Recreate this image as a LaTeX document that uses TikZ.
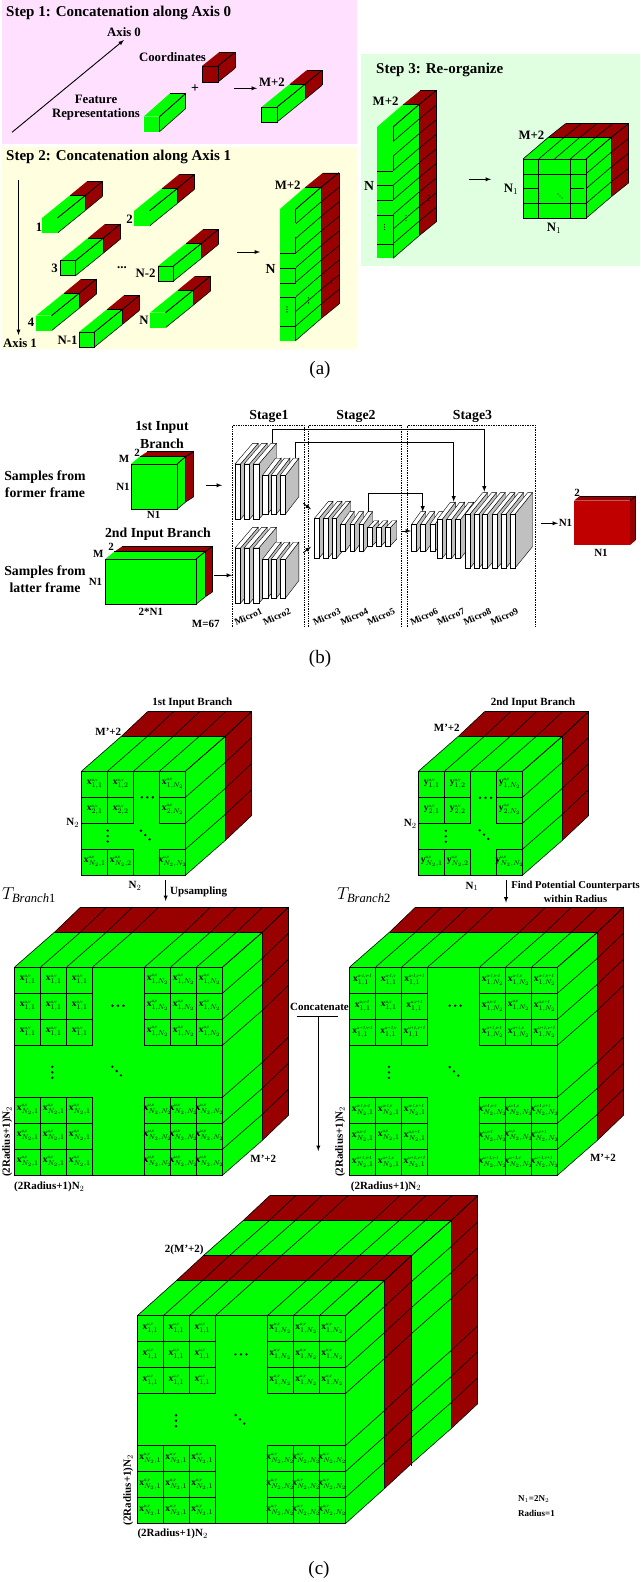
\documentclass[tikz,border=0pt]{standalone}
\usepackage{fontspec}
\setmainfont{Liberation Serif}

\definecolor{featgreen}{HTML}{00FF00}
\definecolor{coordred}{HTML}{990000}
\definecolor{outred}{HTML}{C00000}
\definecolor{sidegray}{HTML}{C0C0C0}
\definecolor{pinkpanel}{HTML}{FFE0FF}
\definecolor{yellowpanel}{HTML}{FFFFE0}
\definecolor{greenpanel}{HTML}{E0FFE0}

\tikzset{
    gridline/.style={draw=black, line width=0.6pt},
    heavyline/.style={draw=black, line width=1pt},
    flow/.style={-latex, draw=black, line width=0.9pt},
    steptitle/.style={font=\bfseries\fontsize{15}{15}\selectfont, inner sep=0, anchor=west},
    steplabel/.style={font=\bfseries\fontsize{12.8}{13}\selectfont, inner sep=0},
    boldlabel/.style={font=\bfseries\fontsize{13.8}{14}\selectfont, inner sep=0},
    smalllabel/.style={font=\bfseries\fontsize{11}{11}\selectfont, inner sep=0},
    microlabel/.style={font=\bfseries\fontsize{9.5}{10}\selectfont, inner sep=0, rotate=25},
    caption/.style={font=\fontsize{19}{19}\selectfont, inner sep=0},
    cellbox/.style={draw=black, line width=1pt, minimum size=26pt, inner sep=0,
        font=\fontsize{9.5}{10}\selectfont},
}

\def\cellw{26}
\def\bigticks{0,26,52,78,130,156,182,208}
\def\smallticks{0,26,52,78,104}
\def\flatrows{0/1/u,1/1/u,2/1/u,5/N_2/u,6/N_2/u,7/N_2/u}
\def\flatcols{0/1/v,1/1/v,2/1/v,5/N_2/v,6/N_2/v,7/N_2/v}
\def\radiusrows{0/1/u-1,1/1/u,2/1/u+1,5/N_2/u-1,6/N_2/u,7/N_2/u+1}
\def\radiuscols{0/1/v-1,1/1/v,2/1/v+1,5/N_2/v-1,6/N_2/v,7/N_2/v+1}

% Tiny superscript of a cell
\newcommand{\cellsup}[2]{\mbox{\fontsize{4.8}{5}\selectfont\itshape #1,#2}}

% Front face of a cube: left, top, width, height
\newcommand{\setcube}[4]{\def\cubeX{#1}\def\cubeY{#2}\def\cubeW{#3}\def\cubeH{#4}}

% One layer behind the front face: depth from, depth to, colour, ticks on top, ticks on side
\newcommand{\gridlayer}[7]{%
    \edef\gridcols{#6}\edef\gridrows{#7}%
    \fill[#5] ({\cubeX+#1},{\cubeY-#2}) -- ({\cubeX+\cubeW+#1},{\cubeY-#2})
        -- ({\cubeX+\cubeW+#3},{\cubeY-#4}) -- ({\cubeX+#3},{\cubeY-#4}) -- cycle;
    \fill[#5] ({\cubeX+\cubeW+#1},{\cubeY-#2}) -- ({\cubeX+\cubeW+#3},{\cubeY-#4})
        -- ({\cubeX+\cubeW+#3},{\cubeY+\cubeH-#4}) -- ({\cubeX+\cubeW+#1},{\cubeY+\cubeH-#2}) -- cycle;
    \foreach \i in \gridcols {\draw[gridline] ({\cubeX+\i+#1},{\cubeY-#2}) -- ({\cubeX+\i+#3},{\cubeY-#4});}
    \foreach \j in \gridrows {\draw[gridline] ({\cubeX+\cubeW+#1},{\cubeY+\j-#2}) -- ({\cubeX+\cubeW+#3},{\cubeY+\j-#4});}
    \draw[gridline] ({\cubeX+#3},{\cubeY-#4}) -- ({\cubeX+\cubeW+#3},{\cubeY-#4})
        -- ({\cubeX+\cubeW+#3},{\cubeY+\cubeH-#4});
}

% Front face
\newcommand{\frontface}[2]{\path[#1,#2] (\cubeX,\cubeY) rectangle ({\cubeX+\cubeW},{\cubeY+\cubeH});}

% One feature bar with its coordinates: front style, left, bottom
\newcommand{\tensorbar}[3][draw=none]{%
    \setcube{#2}{#3-15}{15.5}{15}%
    \gridlayer{28}{22.7}{45}{36.7}{coordred}{15.5}{0,15}%
    \gridlayer{0}{0}{28}{22.7}{featgreen}{15.5}{0,15}%
    \frontface{fill=featgreen,gridline}{#1}%
}

% The tall stack of bars: left, bottom
\newcommand{\barstack}[2]{%
    \setcube{#1}{#2-131.3}{16}{131.3}%
    \gridlayer{25.8}{22.3}{43.4}{36.6}{coordred}{16}{0,14.6,29.2,43.8,58.4,73,87.6,102.2,116.8,131.3}%
    \gridlayer{0}{0}{25.8}{22.3}{featgreen}{16}{0,14.6,29.2,43.8,58.4,73,87.6,102.2,116.8,131.3}%
    \frontface{fill=featgreen}{draw=none}%
    \foreach \j in {44,58.6,73.4,88,116.8} {\draw[gridline] (\cubeX,{\cubeY+\j}) -- ({\cubeX+16},{\cubeY+\j});}
    \draw[gridline] ({\cubeX+16},\cubeY) -- ++(0,14) ({\cubeX+16},{\cubeY+28}) -- ++(0,16)
        ({\cubeX+16},{\cubeY+58.6}) -- ++(0,14.8) ({\cubeX+16},{\cubeY+88}) -- ({\cubeX+16},{\cubeY+\cubeH});
    \vdotsat{\cubeX+7.5}{\cubeY+100}{2.5}{0.7}
    \vdotsat{\cubeX+29}{\cubeY+91}{2.5}{0.7}
    \vdotsat{\cubeX+52}{\cubeY+71}{2.5}{0.7}
}

% One slab of a convolution block: left, top, bottom, width, depth
\newcommand{\slab}[6]{%
    \filldraw[fill=sidegray, draw=black, line width=0.4pt] ({#1+#4},#2) -- ({#1+#4+#5},{#2-#6})
        -- ({#1+#4+#5},{#3-#6}) -- ({#1+#4},#3) -- cycle;
    \filldraw[fill=white, draw=black, line width=0.4pt] (#1,#2) -- ({#1+#5},{#2-#6})
        -- ({#1+#4+#5},{#2-#6}) -- ({#1+#4},#2) -- cycle;
    \filldraw[fill=white, draw=black, line width=0.6pt] (#1,#2) rectangle ({#1+#4},#3);
}

% Dots for the omitted cells
\newcommand{\hdotsat}[4]{\foreach \k in {-1,0,1} {\fill ({#1+\k*#3},{#2}) circle (#4);}}
\newcommand{\vdotsat}[4]{\foreach \k in {-1,0,1} {\fill ({#1},{#2+\k*#3}) circle (#4);}}
\newcommand{\ddotsat}[4]{\foreach \k in {-1,0,1} {\fill ({#1+\k*#3},{#2+\k*#3}) circle (#4);}}

% Labelled cells
\newcommand{\datacell}[4]{\node (#1-#2-#3) at ({\cubeX+(#2+.5)*\cellw},{\cubeY+(#3+.5)*\cellw}) [cellbox] {\makebox[24pt]{$#4$}};}
\newcommand{\smallcells}[2]{%
    \foreach \rowno/\rowsub in {0/1,1/2,3/N_2} {
        \foreach \colno/\colsub in {0/1,1/2,3/N_2} {
            \datacell{#1}{\colno}{\rowno}{\mathbf{#2}^{\cellsup{u}{v}}_{\rowsub,\colsub}}
        }
    }%
}
\newcommand{\bigcells}[3]{%
    \foreach \rowno/\rowsub/\rowsup in #2 {
        \foreach \colno/\colsub/\colsup in #3 {
            \datacell{#1}{\colno}{\rowno}{\mathbf{x}^{\cellsup{\rowsup}{\colsup}}_{\rowsub,\colsub}}
        }
    }%
}

% Arrow between two named ends
\newcommand{\flowarrow}[3]{\coordinate (#1s) at (#2); \coordinate (#1e) at (#3); \draw[flow] (#1s) -- (#1e);}
\newcommand{\skiparrow}[6]{\coordinate (#1s) at (#2,#3); \coordinate (#1e) at (#5,#6);
    \draw[flow] (#1s) -- ++(0,{#4-#3}) -| (#1e);}

\begin{document}
\begin{tikzpicture}[x=1pt, y=-1pt]
    \useasboundingbox (0,0) rectangle (640,1582);

    % Draw the panels of part (a)
    \fill[pinkpanel] (2,0) rectangle (357,144);
    \fill[yellowpanel] (2,147) rectangle (357,349);
    \fill[greenpanel] (361,54.3) rectangle (640,266);

    % Step 1
    \node (stepone) at (6,12.5) [steptitle] {Step 1: Concatenation along Axis 0};
    \flowarrow{axiszero}{12,132.3}{124,40}
    \node (axiszerolabel) at (124,32) [steplabel] {Axis 0};
    \setcube{202}{66}{16}{16}
    \gridlayer{0}{0}{17}{13.7}{coordred}{16}{0,16}
    \frontface{fill=coordred,gridline}{draw=black}
    \setcube{143.5}{116.7}{16}{15}
    \gridlayer{0}{0}{26}{23}{featgreen}{16}{0,15}
    \frontface{fill=featgreen}{draw=none}
    \draw[gridline] (159.5,116.7) -- (159.5,131.7);
    \tensorbar[draw=black]{261.5}{122}
    \node (coordlabel) at (172.5,56.7) [steplabel] {Coordinates};
    \node (featurelabel) at (96,99.3) [steplabel] {Feature};
    \node (reprlabel) at (96,114.3) [steplabel] {Representations};
    \node (pluslabel) at (195,88.3) [boldlabel] {+};
    \flowarrow{stepone}{234,88.3}{257,88.3}
    \node (barwidth) at (272,82.3) [steplabel] {M+2};

    % Step 2
    \node (steptwo) at (6,157) [steptitle] {Step 2: Concatenation along Axis 1};
    \flowarrow{axisone}{18.5,180}{18.5,335}
    \node (axisonelabel) at (20,343) [steplabel] {Axis 1};
    \tensorbar{42}{233}
    \tensorbar{134}{226}
    \tensorbar[draw=black]{60}{275.7}
    \tensorbar[draw=black]{158}{281}
    \tensorbar{36}{330.7}
    \tensorbar[draw=black]{79}{347}
    \tensorbar{150}{327.7}
    \foreach \bname/\bx/\by/\btext in {a/39/227/1, b/129.5/219/2, c/54.5/268/3, e/145.5/273/N-2, f/31/322.7/4, g/67.5/340.7/N-1, h/144/320/N} {
        \node (bar\bname) at (\bx,\by) [steplabel] {\btext};
    }
    \node (bargap) at (122,268) [steplabel] {...};
    \flowarrow{steptwo}{237,252}{260,252}
    \barstack{279.5}{340.7}
    \node (stackwidth) at (287.7,185) [steplabel] {M+2};
    \node (stackheight) at (270.5,269) [boldlabel] {N};

    % Step 3
    \node (stepthree) at (376,69.5) [steptitle] {Step 3: Re-organize};
    \barstack{377}{258.3}
    \node (tallwidth) at (385.6,101.3) [steplabel] {M+2};
    \node (tallheight) at (369,185.7) [boldlabel] {N};
    \flowarrow{stepthree}{468.5,179.3}{491,179.3}
    \setcube{523}{159}{63}{59.3}
    \gridlayer{25.4}{21.7}{42.6}{35.4}{coordred}{0,15.75,31.5,47.25,63}{0,14.8,29.6,44.4,59.3}
    \gridlayer{0}{0}{25.4}{21.7}{featgreen}{0,15.75,31.5,47.25,63}{0,14.8,29.6,44.4,59.3}
    \frontface{fill=featgreen,gridline}{draw=black}
    \draw[gridline] (538.75,159) -- (538.75,218.3) (570,159) -- (570,218.3)
        (523,173.8) -- (586,173.8) (523,188.6) -- (538.75,188.6) (570,188.6) -- (584,188.6)
        (523,203.4) -- (586,203.4);
    \hdotsat{561}{174.5}{2.5}{0.7}
    \vdotsat{538.75}{196}{2.5}{0.7}
    \ddotsat{560}{196}{2}{0.7}
    \node (cubewidth) at (531.5,135) [steplabel] {M+2};
    \node (cubeheight) at (511,189.3) [steplabel] {N$_{1}$};
    \node (cubedepth) at (554,228.3) [steplabel] {N$_{1}$};
    \node (captiona) at (320,370) [caption] {(a)};

    % Inputs of part (b)
    \node (firsttitlea) at (162,427.7) [boldlabel] {1st Input};
    \node (firsttitleb) at (162,443.3) [boldlabel] {Branch};
    \node (formera) at (45,477.3) [boldlabel] {Samples from};
    \node (formerb) at (45,492.3) [boldlabel] {former frame};
    \setcube{131}{464}{46}{45.3}
    \gridlayer{8.6}{7.3}{16.4}{12.3}{coordred}{46}{0,45.3}
    \gridlayer{0}{0}{8.6}{7.3}{featgreen}{46}{0,45.3}
    \frontface{fill=featgreen,gridline}{draw=black}
    \node (firsttwo) at (137,453) [smalllabel] {2};
    \node (firstm) at (124,459.3) [smalllabel] {M};
    \node (firstnleft) at (123,486.7) [smalllabel] {N1};
    \node (firstnlow) at (153.7,515.3) [smalllabel] {N1};
    \flowarrow{firstin}{205.7,485.3}{222,485.3}

    \node (secondtitle) at (158,534) [boldlabel] {2nd Input Branch};
    \node (lattera) at (45,572) [boldlabel] {Samples from};
    \node (latterb) at (45,587.3) [boldlabel] {latter frame};
    \setcube{105.3}{559}{90.7}{45.3}
    \gridlayer{9}{7.3}{16.4}{12.3}{coordred}{90.7}{0,45.3}
    \gridlayer{0}{0}{9}{7.3}{featgreen}{90.7}{0,45.3}
    \frontface{fill=featgreen,gridline}{draw=black}
    \node (secondtwo) at (111,547.3) [smalllabel] {2};
    \node (secondm) at (98.4,553.7) [smalllabel] {M};
    \node (secondnleft) at (95.5,581.7) [smalllabel] {N1};
    \node (secondnlow) at (150.8,612.3) [smalllabel] {2*N1};
    \node (secondmval) at (205.7,624) [smalllabel] {M=67};
    \flowarrow{secondin}{214.3,575.3}{232,575.3}

    % Stages of part (b)
    \foreach \sname/\sx/\stext in {a/269/Stage1, b/356/Stage2, c/472.5/Stage3} {
        \node (stage\sname) at (\sx,416.5) [boldlabel] {\stext};
    }
    \draw[densely dotted, line width=0.7pt] (232.3,627) -- (232.3,425) -- (304,425) -- (304,627);
    \draw[densely dotted, line width=0.7pt] (308.3,627) -- (308.3,425) -- (401.7,425) -- (401.7,627);
    \draw[densely dotted, line width=0.7pt] (407.3,627) -- (407.3,425) -- (535,425) -- (535,627);

    % Slabs of each Micro block
    \foreach \gy in {0,84} {
        \foreach \sx in {235,244,253.3} {\slab{\sx}{464+\gy}{519.3+\gy}{5.5}{17.7}{20.7}}
        \foreach \sx in {262.3,271,280} {\slab{\sx}{475.5+\gy}{514+\gy}{5.5}{13.3}{17.3}}
    }
    \foreach \sx in {314.5,323.5,332} {\slab{\sx}{518.3}{558.3}{4.5}{14}{17}}
    \foreach \sx in {340.7,350,359} {\slab{\sx}{524.3}{551.7}{4.5}{9}{12.7}}
    \foreach \sx in {367.7,376.7,385.7} {\slab{\sx}{527.7}{546}{4.5}{6.5}{7}}
    \foreach \sx in {411.7,420.7,430} {\slab{\sx}{524.3}{551.7}{5}{9}{12.7}}
    \foreach \sx in {437.3,446.7,455.7} {\slab{\sx}{519.3}{558.3}{5}{13}{17}}
    \foreach \sx in {465,474,482.7,492.3,501,510} {\slab{\sx}{514.3}{568.3}{4.8}{17.7}{21.7}}

    \foreach \mname/\mx in {1/248.3, 2/276.7, 3/326.7, 4/354.3, 5/381, 6/424, 7/450.7, 8/477.3, 9/504.3} {
        \node (micro\mname) at (\mx,616.7) [microlabel] {Micro\mname};
    }

    % Arrows between the stages
    \skiparrow{skipone}{272.7}{443.3}{429}{484.3}{491.7}
    \skiparrow{skiptwo}{295.7}{458.3}{442.3}{453.7}{501.7}
    \skiparrow{skipthree}{368.7}{511.7}{493.3}{422.7}{511.7}
    \flowarrow{joinup}{303.3,503.3}{311,509.3}
    \flowarrow{joinlow}{303.3,552.7}{311,546.7}
    \flowarrow{stagetwo}{401,531}{411,531}

    % Output of part (b)
    \flowarrow{outarrow}{541,523.3}{558,523.3}
    \node (outleft) at (565.5,523) [smalllabel] {N1};
    \setcube{574}{500.7}{56}{44.3}
    \gridlayer{0}{0}{5.7}{4.7}{coordred}{56}{0}
    \frontface{fill=outred}{draw=none}
    \node (outtwo) at (577,493.3) [smalllabel] {2};
    \node (outlow) at (601,552.7) [smalllabel] {N1};
    \node (captionb) at (320,659.3) [caption] {(b)};

    % First input cube of part (c)
    \setcube{81.7}{771}{104}{104}
    \gridlayer{40}{35}{66}{59.5}{coordred}{\smallticks}{\smallticks}
    \gridlayer{0}{0}{40}{35}{featgreen}{\smallticks}{\smallticks}
    \frontface{fill=featgreen}{draw=none}
    \smallcells{firstcell}{x}
    \draw[heavyline] (\cubeX,\cubeY) rectangle ({\cubeX+104},{\cubeY+104});
    \draw[heavyline] (121.7,736) -- (225.7,736) -- (225.7,840);
    \hdotsat{147.3}{797.3}{5.5}{1.3}
    \vdotsat{107.7}{836}{5.5}{1.3}
    \ddotsat{145.3}{835}{4.3}{1.3}
    \node (firstname) at (192.3,703.3) [smalllabel] {1st Input Branch};
    \node (firstdepth) at (108.3,732.3) [smalllabel] {M'+2};
    \node (firstside) at (72.7,822.7) [smalllabel] {N$_{2}$};
    \node (firstbase) at (135,886) [smalllabel] {N$_{2}$};
    \node (upsample) at (170,891.7) [smalllabel, anchor=west] {Upsampling};
    \flowarrow{upsamplearrow}{165.7,880}{165.7,901}

    % Second input cube of part (c)
    \setcube{418.7}{771}{104}{104}
    \gridlayer{40}{35}{66}{59.5}{coordred}{\smallticks}{\smallticks}
    \gridlayer{0}{0}{40}{35}{featgreen}{\smallticks}{\smallticks}
    \frontface{fill=featgreen}{draw=none}
    \smallcells{secondcell}{y}
    \draw[heavyline] (\cubeX,\cubeY) rectangle ({\cubeX+104},{\cubeY+104});
    \hdotsat{485.6}{797.8}{5.5}{1.3}
    \vdotsat{445.8}{836.3}{5.5}{1.3}
    \ddotsat{484}{834.6}{4.3}{1.3}
    \node (secondname) at (533,703) [smalllabel] {2nd Input Branch};
    \node (seconddepth) at (446.8,728) [smalllabel] {M'+2};
    \node (secondside) at (410.3,823.8) [smalllabel] {N$_{2}$};
    \node (secondbase) at (472,886.4) [smalllabel] {N$_{1}$};
    \node (findlabela) at (575.5,885.7) [smalllabel, font=\bfseries\fontsize{10.6}{11}\selectfont] {Find Potential Counterparts};
    \node (findlabelb) at (575.5,898.5) [smalllabel, font=\bfseries\fontsize{10.6}{11}\selectfont] {within Radius};
    \flowarrow{findarrow}{506,879.6}{506,902.6}

    % Upsampled cubes of part (c)
    \node (branchone) at (29,895) [inner sep=0, font=\fontsize{18}{18}\selectfont] {$T_{\mathit{Branch}\mathrm{1}}$};
    \setcube{14.7}{967}{208}{208}
    \gridlayer{40}{35}{66}{60}{coordred}{\bigticks}{\bigticks}
    \gridlayer{0}{0}{40}{35}{featgreen}{\bigticks}{\bigticks}
    \frontface{fill=featgreen}{draw=none}
    \bigcells{upcell}{\flatrows}{\flatcols}
    \draw[heavyline] (\cubeX,\cubeY) rectangle ({\cubeX+208},{\cubeY+208});
    \draw[heavyline] (54.7,932) -- (262.7,932);
    \hdotsat{118}{1005.7}{5.5}{1.3}
    \vdotsat{52.3}{1072.3}{5.5}{1.3}
    \ddotsat{116.7}{1071}{4.3}{1.3}
    \node (uprad) at (7.3,1141.7) [smalllabel, rotate=90] {(2Radius+1)N$_{2}$};
    \node (upbase) at (49.3,1186.7) [smalllabel] {(2Radius+1)N$_{2}$};
    \node (updepth) at (263.3,1159) [smalllabel] {M'+2};

    \node (branchtwo) at (364,895.5) [inner sep=0, font=\fontsize{18}{18}\selectfont] {$T_{\mathit{Branch}\mathrm{2}}$};
    \setcube{349.7}{967}{208}{208}
    \gridlayer{40}{35}{66}{60}{coordred}{\bigticks}{\bigticks}
    \gridlayer{0}{0}{40}{35}{featgreen}{\bigticks}{\bigticks}
    \frontface{fill=featgreen}{draw=none}
    \bigcells{radcell}{\radiusrows}{\radiuscols}
    \draw[heavyline] (\cubeX,\cubeY) rectangle ({\cubeX+208},{\cubeY+208});
    \draw[heavyline] (389.7,932) -- (597.7,932);
    \hdotsat{455.2}{1005.7}{5.5}{1.3}
    \vdotsat{389}{1072.3}{5.5}{1.3}
    \ddotsat{454}{1071.3}{4.3}{1.3}
    \node (radside) at (340.3,1141.6) [smalllabel, rotate=90] {(2Radius+1)N$_{2}$};
    \node (radbase) at (386,1186.6) [smalllabel] {(2Radius+1)N$_{2}$};
    \node (raddepth) at (603,1157.8) [smalllabel] {M'+2};

    % Concatenation
    \node (concatlabel) at (319.5,1007.3) [smalllabel] {Concatenate};
    \coordinate (concatleft) at (296.7,1016);
    \coordinate (concatright) at (337.6,1016);
    \coordinate (concattop) at (318.3,1016);
    \coordinate (concatend) at (318.3,1151);
    \draw[heavyline] (concatleft) -- (concatright);
    \draw[flow] (concattop) -- (concatend);

    % Concatenated cube of part (c)
    \setcube{137.3}{1315.7}{208}{208}
    \gridlayer{105.7}{95}{132.4}{120}{coordred}{\bigticks}{\bigticks}
    \gridlayer{66}{60}{105.7}{95}{featgreen}{\bigticks}{\bigticks}
    \gridlayer{39}{35}{66}{60}{coordred}{\bigticks}{\bigticks}
    \gridlayer{0}{0}{39}{35}{featgreen}{\bigticks}{\bigticks}
    \frontface{fill=featgreen}{draw=none}
    \bigcells{mergecell}{\flatrows}{\flatcols}
    \draw[heavyline] (\cubeX,\cubeY) rectangle ({\cubeX+208},{\cubeY+208});
    \draw[heavyline] (203.3,1255.7) -- (411.3,1255.7) -- (411.3,1465.5);
    \hdotsat{241}{1354.3}{5.5}{1.3}
    \vdotsat{176}{1420.7}{5.5}{1.3}
    \ddotsat{240}{1419.3}{4.3}{1.3}
    \node (mergedepth) at (184.3,1250) [smalllabel] {2(M'+2)};
    \node (mergeside) at (128.3,1490) [smalllabel, rotate=90] {(2Radius+1)N$_{2}$};
    \node (mergebase) at (172.7,1534.3) [smalllabel] {(2Radius+1)N$_{2}$};
    \node (notea) at (518,1499) [smalllabel, anchor=west, font=\bfseries\fontsize{9}{9}\selectfont] {N$_{1}$=2N$_{2}$};
    \node (noteb) at (518,1513) [smalllabel, anchor=west, font=\bfseries\fontsize{9}{9}\selectfont] {Radius=1};
    \node (captionc) at (319,1570) [caption] {(c)};
\end{tikzpicture}
\end{document}
